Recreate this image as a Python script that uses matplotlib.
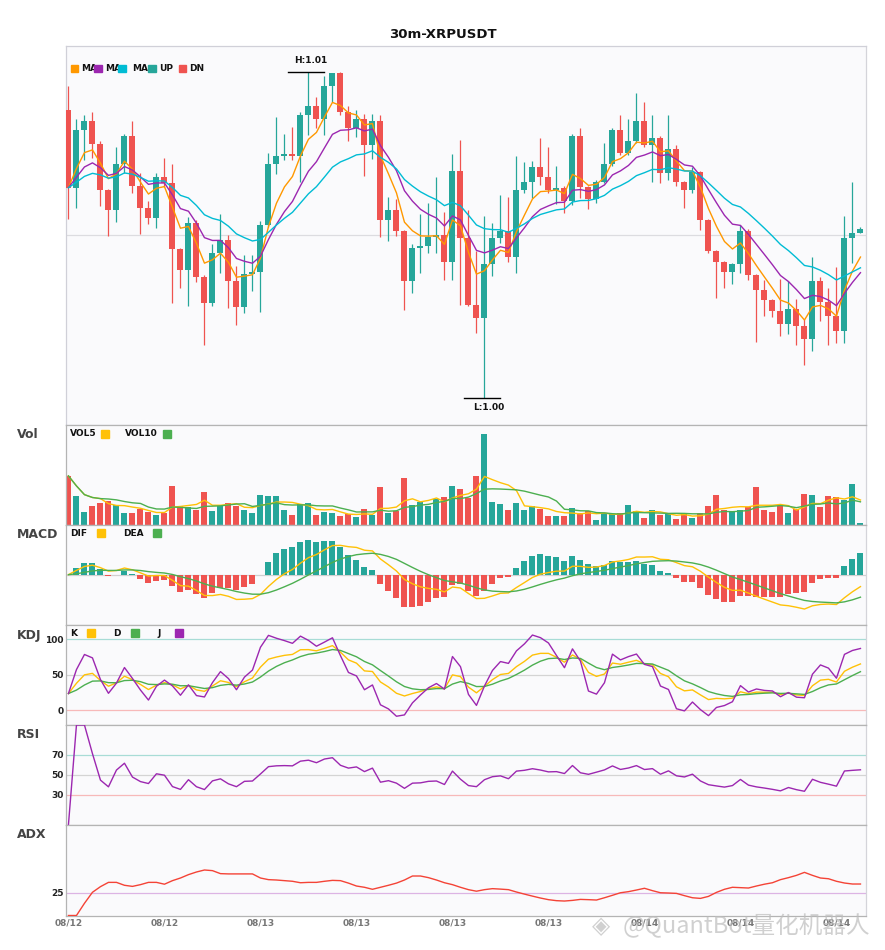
import numpy as np
import pandas as pd
import matplotlib
matplotlib.use("Agg")
import matplotlib.pyplot as plt
from matplotlib.patches import Rectangle

plt.rcParams['font.family'] = ['DejaVu Sans', 'Noto Sans CJK SC']

# ---------------- data (30m XRPUSDT candles) ----------------
title = "30m-XRPUSDT"

opens = [1.00952, 1.00641, 1.00872, 1.00908, 1.00814, 1.00633, 1.00553, 1.00736, 1.00848, 1.00648,
         1.00561, 1.00521, 1.00685, 1.00659, 1.00397, 1.00312, 1.00500, 1.00284, 1.00181, 1.00380,
         1.00432, 1.00269, 1.00165, 1.00296, 1.00304, 1.00492, 1.00736, 1.00767, 1.00775, 1.00769,
         1.00932, 1.00968, 1.00917, 1.01048, 1.01098, 1.00944, 1.00881, 1.00916, 1.00812, 1.00908,
         1.00512, 1.00552, 1.00468, 1.00269, 1.00400, 1.00408, 1.00445, 1.00453, 1.00345, 1.00708,
         1.00441, 1.00172, 1.00121, 1.00336, 1.00439, 1.00468, 1.00365, 1.00632, 1.00664, 1.00724,
         1.00685, 1.00632, 1.00640, 1.00589, 1.00848, 1.00644, 1.00596, 1.00664, 1.00736, 1.00872,
         1.00781, 1.00828, 1.00908, 1.00813, 1.00840, 1.00701, 1.00796, 1.00665, 1.00633, 1.00704,
         1.00512, 1.00388, 1.00345, 1.00305, 1.00336, 1.00468, 1.00293, 1.00233, 1.00193, 1.00149,
         1.00097, 1.00157, 1.00089, 1.00037, 1.00269, 1.00183, 1.00129, 1.00069, 1.00440, 1.00460]

highs = [1.01048, 1.00915, 1.00932, 1.00944, 1.00828, 1.00635, 1.00803, 1.00856, 1.00908, 1.00699,
         1.00589, 1.00701, 1.00760, 1.00736, 1.00400, 1.00525, 1.00512, 1.00292, 1.00416, 1.00536,
         1.00453, 1.00329, 1.00372, 1.00372, 1.00507, 1.00779, 1.00924, 1.00856, 1.00884, 1.00945,
         1.01105, 1.01004, 1.01088, 1.01101, 1.01103, 1.00968, 1.00952, 1.00936, 1.00936, 1.00932,
         1.00605, 1.00596, 1.00470, 1.00416, 1.00536, 1.00580, 1.00685, 1.00544, 1.00776, 1.00832,
         1.00552, 1.00387, 1.00528, 1.00499, 1.00612, 1.00603, 1.00768, 1.00744, 1.00748, 1.00840,
         1.00804, 1.00728, 1.00648, 1.00856, 1.00880, 1.00646, 1.00672, 1.00820, 1.00880, 1.00932,
         1.00916, 1.01021, 1.00984, 1.00932, 1.00848, 1.00932, 1.00812, 1.00668, 1.00725, 1.00708,
         1.00516, 1.00392, 1.00348, 1.00340, 1.00492, 1.00476, 1.00297, 1.00272, 1.00197, 1.00277,
         1.00269, 1.00197, 1.00117, 1.00364, 1.00283, 1.00240, 1.00325, 1.00528, 1.00664, 1.00484]

lows = [1.00517, 1.00561, 1.00752, 1.00760, 1.00569, 1.00449, 1.00504, 1.00699, 1.00621, 1.00457,
        1.00497, 1.00481, 1.00645, 1.00181, 1.00240, 1.00168, 1.00265, 1.00013, 1.00168, 1.00300,
        1.00161, 1.00093, 1.00139, 1.00229, 1.00145, 1.00485, 1.00697, 1.00752, 1.00752, 1.00665,
        1.00853, 1.00881, 1.00853, 1.00985, 1.00932, 1.00827, 1.00843, 1.00689, 1.00756, 1.00445,
        1.00428, 1.00449, 1.00153, 1.00221, 1.00301, 1.00381, 1.00379, 1.00273, 1.00273, 1.00172,
        1.00168, 1.00059, 0.99799, 1.00288, 1.00419, 1.00345, 1.00301, 1.00619, 1.00601, 1.00651,
        1.00619, 1.00575, 1.00541, 1.00572, 1.00600, 1.00556, 1.00580, 1.00659, 1.00728, 1.00772,
        1.00772, 1.00819, 1.00805, 1.00665, 1.00661, 1.00672, 1.00649, 1.00561, 1.00620, 1.00472,
        1.00379, 1.00199, 1.00239, 1.00256, 1.00300, 1.00272, 1.00025, 1.00129, 1.00125, 1.00049,
        1.00057, 1.00013, 0.99931, 0.99989, 1.00109, 1.00013, 1.00021, 1.00021, 1.00341, 1.00458]

closes = [1.00641, 1.00872, 1.00908, 1.00814, 1.00633, 1.00553, 1.00736, 1.00848, 1.00648, 1.00561,
          1.00521, 1.00685, 1.00659, 1.00397, 1.00312, 1.00500, 1.00284, 1.00181, 1.00380, 1.00432,
          1.00269, 1.00165, 1.00296, 1.00304, 1.00492, 1.00736, 1.00767, 1.00775, 1.00769, 1.00932,
          1.00968, 1.00917, 1.01048, 1.01098, 1.00944, 1.00881, 1.00916, 1.00812, 1.00908, 1.00512,
          1.00552, 1.00468, 1.00269, 1.00400, 1.00408, 1.00445, 1.00453, 1.00345, 1.00708, 1.00441,
          1.00172, 1.00121, 1.00336, 1.00439, 1.00468, 1.00365, 1.00632, 1.00664, 1.00724, 1.00685,
          1.00632, 1.00640, 1.00589, 1.00848, 1.00644, 1.00596, 1.00664, 1.00736, 1.00872, 1.00781,
          1.00828, 1.00908, 1.00813, 1.00840, 1.00701, 1.00796, 1.00665, 1.00633, 1.00704, 1.00512,
          1.00388, 1.00345, 1.00305, 1.00336, 1.00468, 1.00293, 1.00233, 1.00193, 1.00149, 1.00097,
          1.00157, 1.00089, 1.00037, 1.00269, 1.00183, 1.00129, 1.00069, 1.00440, 1.00460, 1.00476]

# volume in millions of XRP
volumes = [14.5, 8.5, 3.7, 5.5, 6.4, 7.0, 5.8, 3.4, 3.4, 4.6,
           3.7, 2.8, 3.4, 11.5, 5.5, 5.2, 4.3, 9.7, 4.0, 5.5,
           6.4, 5.5, 4.3, 3.4, 8.8, 8.5, 8.5, 4.3, 2.8, 6.1,
           6.4, 2.8, 3.7, 3.4, 2.5, 3.1, 2.2, 4.6, 2.8, 11.2,
           3.4, 4.0, 13.9, 5.8, 6.7, 5.5, 7.6, 8.2, 11.5, 10.6,
           7.9, 14.5, 27.1, 6.7, 6.1, 4.3, 6.4, 4.3, 5.5, 4.6,
           2.5, 2.5, 2.5, 4.9, 3.4, 4.0, 1.3, 3.4, 3.1, 3.4,
           5.8, 4.0, 1.9, 4.3, 2.8, 3.1, 1.6, 3.1, 1.9, 3.4,
           5.5, 8.8, 4.3, 3.7, 4.3, 5.2, 11.2, 4.3, 3.7, 5.5,
           3.4, 4.6, 9.1, 8.8, 5.2, 8.5, 8.2, 7.3, 12.1, 0.4]

# ADX values
adx_values = [0.0, 0.0, 13.4, 25.5, 31.7, 36.4, 36.4, 33.2, 32.0, 33.9,
              36.4, 36.4, 34.4, 38.3, 41.2, 44.9, 47.8, 50.0, 49.3, 46.0,
              45.7, 45.7, 45.7, 45.7, 41.2, 39.4, 39.0, 38.3, 37.6, 36.0,
              36.4, 36.4, 37.6, 38.6, 38.3, 35.6, 32.4, 31.0, 28.8, 31.0,
              33.2, 35.6, 39.0, 43.4, 43.4, 41.6, 39.0, 36.0, 33.9, 31.0,
              28.4, 26.7, 28.4, 29.5, 29.0, 28.4, 25.8, 23.5, 21.3, 19.2,
              17.4, 16.3, 15.9, 16.6, 17.7, 17.4, 17.0, 19.5, 22.2, 25.0,
              26.2, 28.0, 29.9, 27.3, 25.0, 24.7, 24.3, 21.8, 19.5, 18.8,
              21.0, 25.4, 28.8, 31.0, 30.6, 30.2, 32.4, 34.4, 36.0, 39.4,
              41.6, 44.1, 47.4, 44.1, 41.2, 40.4, 37.6, 35.7, 34.6, 34.6]

tick_index = [0, 12, 24, 36, 48, 60, 72, 84, 96]
tick_labels = ["08/12", "08/12", "08/13", "08/13", "08/13", "08/13", "08/14", "08/14", "08/14"]
watermark = "@QuantBot量化机器人"

# ---------------- indicators ----------------
o = np.array(opens); h = np.array(highs); l = np.array(lows); c = np.array(closes)
v = np.array(volumes)
adx = np.array(adx_values)
n = len(c)
x = np.arange(n)
cs = pd.Series(c); hs = pd.Series(h); ls = pd.Series(l); vs = pd.Series(v)

ma5 = cs.ewm(span=5, adjust=False).mean()
ma10 = cs.ewm(span=10, adjust=False).mean()
ma20 = cs.ewm(span=20, adjust=False).mean()

vol5 = vs.rolling(5, min_periods=1).mean()
vol10 = vs.rolling(10, min_periods=1).mean()

dif = cs.ewm(span=12, adjust=False).mean() - cs.ewm(span=26, adjust=False).mean()
dea = dif.ewm(span=9, adjust=False).mean()
hist = 2 * (dif - dea)

low9 = ls.rolling(9, min_periods=1).min()
high9 = hs.rolling(9, min_periods=1).max()
rsv = (cs - low9) / (high9 - low9) * 100
k_line = rsv.ewm(alpha=1 / 3, adjust=False).mean()
d_line = k_line.ewm(alpha=1 / 3, adjust=False).mean()
j_line = 3 * k_line - 2 * d_line

diff = cs.diff().fillna(0)
gain = diff.clip(lower=0).ewm(alpha=1 / 14, adjust=True).mean()
loss = (-diff.clip(upper=0)).ewm(alpha=1 / 14, adjust=True).mean()
rsi = (100 * gain / (gain + loss)).fillna(0)

# ---------------- styling ----------------
UP = "#26a69a"; DN = "#ef5350"
C_MA5 = "#ff9800"; C_MA10 = "#9c27b0"; C_MA20 = "#00bcd4"
YEL = "#ffc107"; GRN = "#4caf50"; PUR = "#9c27b0"; ADXC = "#f44336"
BG = "#fafafc"
W, H = 885, 950

fig = plt.figure(figsize=(W / 100, H / 100), dpi=100)
fig.patch.set_facecolor("white")

L_PX, R_PX = 65.5, 865.5


def add_ax(top, bottom):
    return fig.add_axes([L_PX / W, 1 - bottom / H, (R_PX - L_PX) / W, (bottom - top) / H])


def fx(px):
    return px / W


def fy(py):
    return 1 - py / H


def ftext(px, py, s, **kw):
    kw.setdefault("fontsize", 6.5)
    kw.setdefault("fontweight", "bold")
    kw.setdefault("va", "center")
    kw.setdefault("ha", "left")
    fig.text(fx(px), fy(py), s, **kw)


def fsquare(x0, yc, size, color):
    fig.add_artist(Rectangle((fx(x0), fy(yc + size / 2)), size / W, size / H,
                             transform=fig.transFigure, color=color, zorder=6))


def style_ax(ax, spine_col="#b4b4b4"):
    ax.set_facecolor(BG)
    ax.set_xlim(-0.37, n - 0.37)
    ax.set_xticks([])
    for s in ax.spines.values():
        s.set_color(spine_col)
        s.set_linewidth(0.9)
    ax.spines["right"].set_color("#d4d4da")
    ax.tick_params(axis="y", length=0, pad=1.5, labelsize=6.5, labelcolor="#222222")


axes_rows = [(45.5, 424.5), (424.5, 524.5), (524.5, 624.5), (624.5, 724.5), (724.5, 824.5), (824.5, 915.5)]
ax_main, ax_vol, ax_macd, ax_kdj, ax_rsi, ax_adx = [add_ax(t, b) for t, b in axes_rows]

# ---- main candles ----
style_ax(ax_main, "#d0d0d8")
up = c >= o
cols = np.where(up, UP, DN)
ax_main.vlines(x, l, h, colors=cols, linewidth=0.9, zorder=2)
body_lo = np.minimum(o, c)
body_h = np.maximum(np.abs(c - o), 0.00003)
ax_main.bar(x, body_h, bottom=body_lo, width=0.75, color=cols, linewidth=0, zorder=3)
ax_main.plot(x, ma5, color=C_MA5, lw=1.0, zorder=4)
ax_main.plot(x, ma10, color=C_MA10, lw=1.0, zorder=4)
ax_main.plot(x, ma20, color=C_MA20, lw=1.0, zorder=4)
lo, hi = l.min(), h.max()
rng = hi - lo
ax_main.set_ylim(lo - 0.08 * rng, hi + 0.08 * rng)
ax_main.axhline((lo + hi) / 2, color="#dcdce0", lw=0.9, zorder=1)
ax_main.set_yticks([])
ih = int(np.argmax(h)); il = int(np.argmin(l))
ax_main.plot([ih - 2.5, ih + 2.0], [hi, hi], color="black", lw=1.0, zorder=5)
ax_main.annotate(f"H:{hi:.2f}", (ih + 0.3, hi), xytext=(0, 5), textcoords="offset points",
                 ha="center", va="bottom", fontsize=6.5, fontweight="bold", color="#111111")
ax_main.plot([il - 2.5, il + 2.0], [lo, lo], color="black", lw=1.0, zorder=5)
ax_main.annotate(f"L:{lo:.2f}", (il + 0.5, lo), xytext=(0, -3.5), textcoords="offset points",
                 ha="center", va="top", fontsize=6.5, fontweight="bold", color="#111111")

# main legend
for xs, col in [(70.7, C_MA5), (94.3, C_MA10), (118.3, C_MA20), (148.3, UP), (179.0, DN)]:
    fsquare(xs, 68.7, 7.3, col)
for xs, s in [(81, "MA"), (105, "MA"), (131.7, "MA"), (159, "UP"), (189.3, "DN")]:
    ftext(xs, 68.7, s, color="#111111")

# ---- volume ----
style_ax(ax_vol)
ax_vol.bar(x, v, width=0.75, color=cols, linewidth=0, zorder=2)
ax_vol.plot(x, vol5, color=YEL, lw=1.0, zorder=3)
ax_vol.plot(x, vol10, color=GRN, lw=1.0, zorder=3)
ax_vol.set_ylim(0, v.max() * 1.1)
ax_vol.set_yticks([])
ftext(70, 433.7, "VOL5", color="#111111")
fsquare(101, 433.7, 8, YEL)
ftext(125.3, 433.7, "VOL10", color="#111111")
fsquare(163.3, 433.7, 8, GRN)

# ---- MACD ----
style_ax(ax_macd)
mcols = np.where(hist >= 0, UP, DN)
ax_macd.bar(x, hist, width=0.75, color=mcols, linewidth=0, zorder=2)
ax_macd.plot(x, dif, color=YEL, lw=1.0, zorder=3)
ax_macd.plot(x, dea, color=GRN, lw=1.0, zorder=3)
ax_macd.axhline(0, color="#d0d0d0", lw=0.9, zorder=1)
mlo = min(dif.min(), dea.min(), hist.min()); mhi = max(dif.max(), dea.max(), hist.max())
ax_macd.set_ylim(mlo * 1.45, mhi * 1.45)
ax_macd.set_yticks([])
ftext(70, 534, "DIF", color="#111111")
fsquare(97, 533.2, 8, YEL)
ftext(123, 534, "DEA", color="#111111")
fsquare(153, 533.2, 8, GRN)

# ---- KDJ ----
style_ax(ax_kdj)
ax_kdj.axhline(100, color="#a8dcd6", lw=0.9, zorder=1)
ax_kdj.axhline(50, color="#d4d4d4", lw=0.9, zorder=1)
ax_kdj.axhline(0, color="#f7b9b9", lw=0.9, zorder=1)
ax_kdj.plot(x, k_line, color=YEL, lw=1.0, zorder=3)
ax_kdj.plot(x, d_line, color=GRN, lw=1.0, zorder=3)
ax_kdj.plot(x, j_line, color=PUR, lw=1.0, zorder=3)
ax_kdj.set_ylim(-20.5, 121)
ax_kdj.set_yticks([0, 50, 100])
ax_kdj.set_yticklabels(["0", "50", "100"], fontweight="bold")
ftext(70, 634, "K", color="#111111")
fsquare(87, 633, 8, YEL)
ftext(113, 634, "D", color="#111111")
fsquare(131, 633, 8, GRN)
ftext(157, 634, "J", color="#111111")
fsquare(175, 633, 8, PUR)

# ---- RSI ----
style_ax(ax_rsi)
ax_rsi.axhline(70, color="#a8dcd6", lw=0.9, zorder=1)
ax_rsi.axhline(50, color="#d4d4d4", lw=0.9, zorder=1)
ax_rsi.axhline(30, color="#f7b9b9", lw=0.9, zorder=1)
ax_rsi.plot(x, rsi, color=PUR, lw=1.0, zorder=3)
ax_rsi.set_ylim(0, 100.5)
ax_rsi.set_yticks([30, 50, 70])
ax_rsi.set_yticklabels(["30", "50", "70"], fontweight="bold")

# ---- ADX ----
style_ax(ax_adx)
ax_adx.axhline(25, color="#dcb4e4", lw=0.9, zorder=1)
ax_adx.plot(x, adx, color=ADXC, lw=1.0, zorder=3)
ax_adx.set_ylim(0, 100)
ax_adx.set_yticks([25])
ax_adx.set_yticklabels(["25"], fontweight="bold")
ax_adx.set_xticks(tick_index)
ax_adx.set_xticklabels(tick_labels, fontsize=6.5, fontweight="bold", color="#777777")
ax_adx.tick_params(axis="x", length=0, pad=2.5)

# panel names
for name, yc in [("Vol", 435), ("MACD", 534.5), ("KDJ", 635), ("RSI", 735), ("ADX", 835)]:
    ftext(17, yc, name, fontsize=9, color="#444444")

# title
fig.text(0.5, fy(34), title, ha="center", va="center", fontsize=9.5, fontweight="bold", color="#111111")

# watermark (semi-transparent, as in the reference)
fig.text(fx(601), fy(926), "◈", ha="center", va="center", fontsize=17,
         color="#bdbdbd", alpha=0.7, family=["DejaVu Sans"], zorder=10)
fig.text(fx(623), fy(926), watermark, ha="left", va="center", fontsize=17,
         color="#bdbdbd", alpha=0.7, family=["Noto Sans CJK SC", "DejaVu Sans"], zorder=10)

fig.savefig("out.png", dpi=100, facecolor="white")
